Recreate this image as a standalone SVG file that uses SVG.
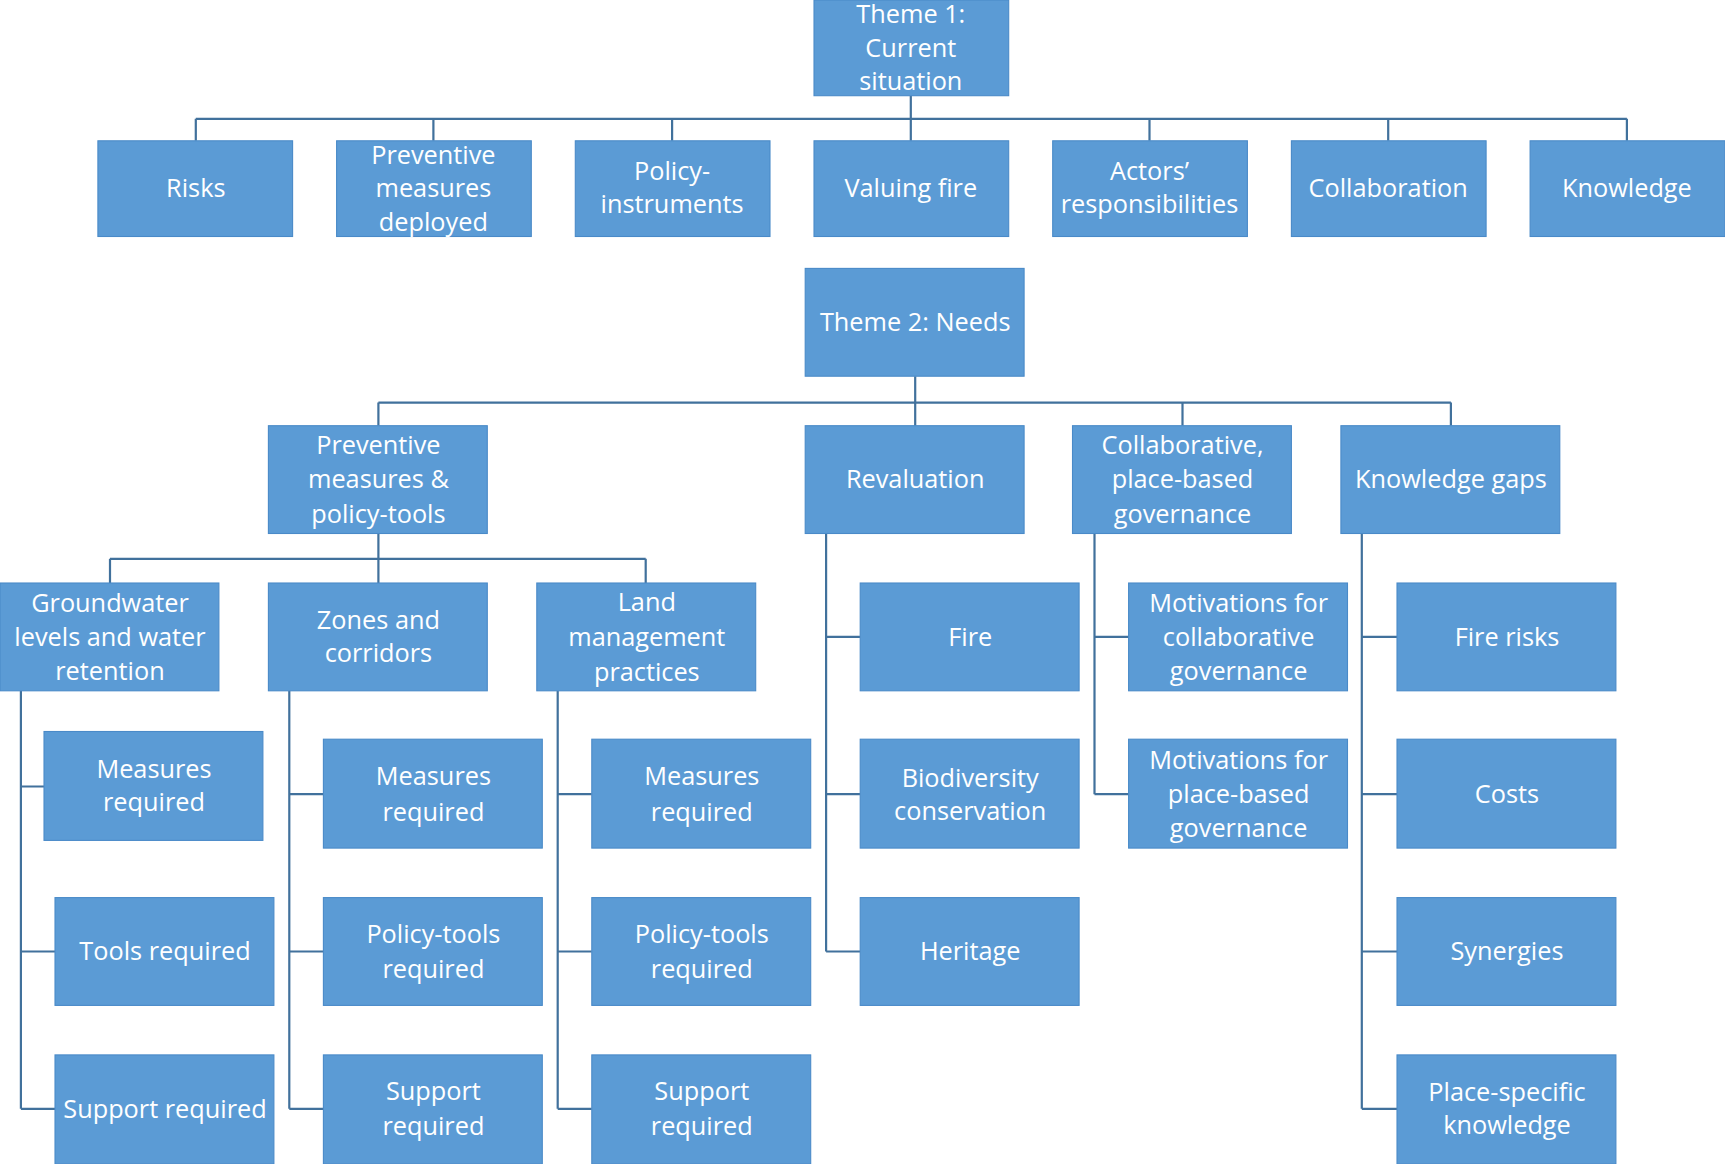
<svg xmlns="http://www.w3.org/2000/svg" width="1725" height="1164" viewBox="0 0 1725 1164">
<style>
.b rect{fill:#5B9BD5;stroke:#4A8AC8;stroke-width:1}
.b text{fill:#fff;font-family:"Open Sans","Liberation Sans",sans-serif;font-size:23px;text-anchor:middle}
.c{stroke:#41719C;stroke-width:2;fill:none}
</style>
<rect width="1725" height="1164" fill="#fff"/>
<g transform="scale(1.1)">
<g id="connectors" class="c">
<path d="M828 87V128M178 108H1479M178 108V128M394 108V128M611 108V128M1045 108V128M1262 108V128M1479 108V128"/>
<path d="M832 342V387M344 366H1319M344 366V387M1075 366V387M1319 366V387"/>
<path d="M344 485V530M100 508H587M100 508V530M587 508V530"/>
<path d="M19 628V1008M19 715H40M19 865H50M19 1008H50"/>
<path d="M263 628V1008M263 722H294M263 865H294M263 1008H294"/>
<path d="M507 628V1008M507 722H538M507 865H538M507 1008H538"/>
<path d="M751 485V865M751 579H782M751 722H782M751 865H782"/>
<path d="M995 485V722M995 579H1026M995 722H1026"/>
<path d="M1238 485V1008M1238 579H1270M1238 722H1270M1238 865H1270M1238 1008H1270"/>
</g>
<g id="t1" class="b"><rect x="740" y="0" width="177" height="87"/><text x="828" y="21">Theme 1:</text><text x="828" y="52">Current</text><text x="828" y="82">situation</text></g>
<g id="risks" class="b"><rect x="89" y="128" width="177" height="87"/><text x="178" y="179">Risks</text></g>
<g id="prevdep" class="b"><rect x="306" y="128" width="177" height="87"/><text x="394" y="149">Preventive</text><text x="394" y="179">measures</text><text x="394" y="210">deployed</text></g>
<g id="policyinst" class="b"><rect x="523" y="128" width="177" height="87"/><text x="611" y="164">Policy-</text><text x="611" y="194">instruments</text></g>
<g id="valuing" class="b"><rect x="740" y="128" width="177" height="87"/><text x="828" y="179">Valuing fire</text></g>
<g id="actors" class="b"><rect x="957" y="128" width="177" height="87"/><text x="1045" y="164">Actors’</text><text x="1045" y="194">responsibilities</text></g>
<g id="collab" class="b"><rect x="1174" y="128" width="177" height="87"/><text x="1262" y="179">Collaboration</text></g>
<g id="knowledge" class="b"><rect x="1391" y="128" width="177" height="87"/><text x="1479" y="179">Knowledge</text></g>
<g id="t2" class="b"><rect x="732" y="244" width="199" height="98"/><text x="832" y="301">Theme 2: Needs</text></g>
<g id="prevpol" class="b"><rect x="244" y="387" width="199" height="98"/><text x="344" y="413">Preventive</text><text x="344" y="444">measures &amp;</text><text x="344" y="475">policy-tools</text></g>
<g id="reval" class="b"><rect x="732" y="387" width="199" height="98"/><text x="832" y="444">Revaluation</text></g>
<g id="colgov" class="b"><rect x="975" y="387" width="199" height="98"/><text x="1075" y="413">Collaborative,</text><text x="1075" y="444">place-based</text><text x="1075" y="475">governance</text></g>
<g id="kgaps" class="b"><rect x="1219" y="387" width="199" height="98"/><text x="1319" y="444">Knowledge gaps</text></g>
<g id="ground" class="b"><rect x="0" y="530" width="199" height="98"/><text x="100" y="556">Groundwater</text><text x="100" y="587">levels and water</text><text x="100" y="618">retention</text></g>
<g id="zones" class="b"><rect x="244" y="530" width="199" height="98"/><text x="344" y="572">Zones and</text><text x="344" y="602">corridors</text></g>
<g id="land" class="b"><rect x="488" y="530" width="199" height="98"/><text x="588" y="555">Land</text><text x="588" y="587">management</text><text x="588" y="619">practices</text></g>
<g id="fire" class="b"><rect x="782" y="530" width="199" height="98"/><text x="882" y="587">Fire</text></g>
<g id="motcol" class="b"><rect x="1026" y="530" width="199" height="98"/><text x="1126" y="556">Motivations for</text><text x="1126" y="587">collaborative</text><text x="1126" y="618">governance</text></g>
<g id="firerisks" class="b"><rect x="1270" y="530" width="199" height="98"/><text x="1370" y="587">Fire risks</text></g>
<g id="gmeas" class="b"><rect x="40" y="665" width="199" height="99"/><text x="140" y="707">Measures</text><text x="140" y="737">required</text></g>
<g id="zmeas" class="b"><rect x="294" y="672" width="199" height="99"/><text x="394" y="714">Measures</text><text x="394" y="746">required</text></g>
<g id="lmeas" class="b"><rect x="538" y="672" width="199" height="99"/><text x="638" y="714">Measures</text><text x="638" y="746">required</text></g>
<g id="bio" class="b"><rect x="782" y="672" width="199" height="99"/><text x="882" y="715">Biodiversity</text><text x="882" y="745">conservation</text></g>
<g id="motplace" class="b"><rect x="1026" y="672" width="199" height="99"/><text x="1126" y="699">Motivations for</text><text x="1126" y="730">place-based</text><text x="1126" y="761">governance</text></g>
<g id="costs" class="b"><rect x="1270" y="672" width="199" height="99"/><text x="1370" y="730">Costs</text></g>
<g id="gtools" class="b"><rect x="50" y="816" width="199" height="98"/><text x="150" y="873">Tools required</text></g>
<g id="zpol" class="b"><rect x="294" y="816" width="199" height="98"/><text x="394" y="857">Policy-tools</text><text x="394" y="889">required</text></g>
<g id="lpol" class="b"><rect x="538" y="816" width="199" height="98"/><text x="638" y="857">Policy-tools</text><text x="638" y="889">required</text></g>
<g id="heritage" class="b"><rect x="782" y="816" width="199" height="98"/><text x="882" y="873">Heritage</text></g>
<g id="syn" class="b"><rect x="1270" y="816" width="199" height="98"/><text x="1370" y="873">Synergies</text></g>
<g id="gsup" class="b"><rect x="50" y="959" width="199" height="99"/><text x="150" y="1016">Support required</text></g>
<g id="zsup" class="b"><rect x="294" y="959" width="199" height="99"/><text x="394" y="1000">Support</text><text x="394" y="1032">required</text></g>
<g id="lsup" class="b"><rect x="538" y="959" width="199" height="99"/><text x="638" y="1000">Support</text><text x="638" y="1032">required</text></g>
<g id="place" class="b"><rect x="1270" y="959" width="199" height="99"/><text x="1370" y="1001">Place-specific</text><text x="1370" y="1031">knowledge</text></g>
</g>
</svg>
